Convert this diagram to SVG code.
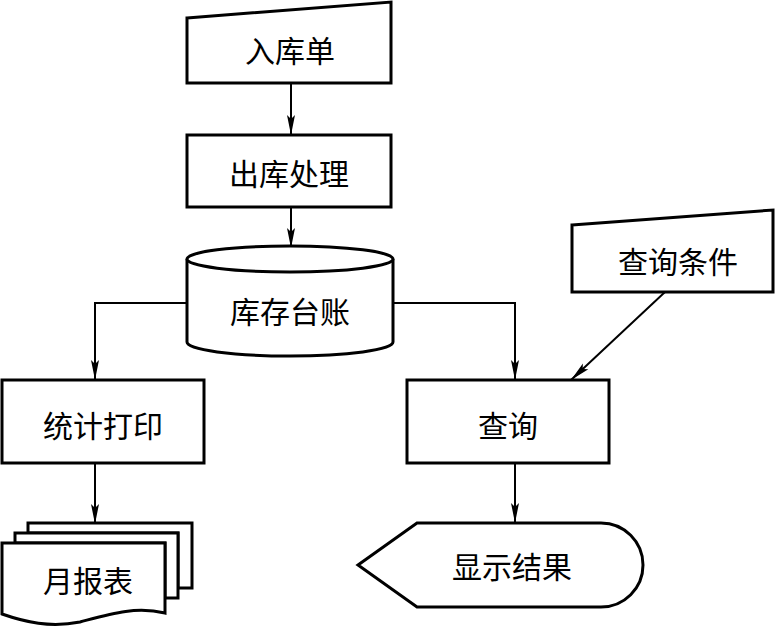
<svg xmlns="http://www.w3.org/2000/svg" width="776" height="627" viewBox="0 0 776 627">
<defs>
<style>
.s{fill:#fff;stroke:#000;stroke-width:3;stroke-linejoin:miter}
.c{fill:none;stroke:#000;stroke-width:2}
text{font-family:"Noto Sans CJK SC","Noto Sans CJK JP",sans-serif;font-size:30px;fill:#000;text-anchor:middle;dominant-baseline:central}
</style>
<marker id="a" viewBox="0 0 20 10" refX="20" refY="5" markerWidth="20" markerHeight="10" markerUnits="userSpaceOnUse" orient="auto">
<path d="M0,1 L20,5 L0,9 L4,5 Z" fill="#000"/>
</marker>
</defs>
<g id="connectors">
<line class="c" x1="291" y1="83" x2="291" y2="135" marker-end="url(#a)"/>
<line class="c" x1="291" y1="207" x2="291" y2="248" marker-end="url(#a)"/>
<polyline class="c" points="187,303 95,303 95,380" marker-end="url(#a)"/>
<polyline class="c" points="393,303 515,303 515,380" marker-end="url(#a)"/>
<line class="c" x1="665" y1="292" x2="571" y2="380" marker-end="url(#a)"/>
<line class="c" x1="95" y1="463" x2="95" y2="524" marker-end="url(#a)"/>
<line class="c" x1="515" y1="463" x2="515" y2="523" marker-end="url(#a)"/>
</g>
<g id="n-rukudan">
<path class="s" d="M187,18 L391,2 L391,83 L187,83 Z"/>
<text x="290" y="49">入库单</text>
</g>
<g id="n-chuku">
<rect class="s" x="187" y="135" width="204" height="72"/>
<text x="289" y="172">出库处理</text>
</g>
<g id="n-taizhang">
<path class="s" d="M187,259 L187,342 A103,14 0 0 0 393,342 L393,259"/>
<ellipse class="s" cx="290" cy="259" rx="103" ry="13"/>
<text x="290" y="310">库存台账</text>
</g>
<g id="n-tongji">
<rect class="s" x="2" y="380" width="202" height="83"/>
<text x="103" y="424">统计打印</text>
</g>
<g id="n-chaxun">
<rect class="s" x="407" y="380" width="202" height="83"/>
<text x="508" y="424">查询</text>
</g>
<g id="n-tiaojian">
<path class="s" d="M572,225 L773,210 L773,292 L572,292 Z"/>
<text x="678" y="260">查询条件</text>
</g>
<g id="n-yuebao">
<path class="s" d="M28,523 L192,523 L192,588 L178,588 L178,533 L28,533 Z"/>
<path class="s" d="M15,533 L178,533 L178,598 L165,598 L165,543 L15,543 Z"/>
<path class="s" d="M2,543 L165,543 L165,613 C135,606 110,614 80,622 C50,628 25,622 2,614 Z"/>
<text x="88" y="579">月报表</text>
</g>
<g id="n-xianshi">
<path class="s" d="M358,565 L417,523 L601,523 A42,42 0 0 1 601,607 L417,607 Z"/>
<text x="512" y="565">显示结果</text>
</g>
</svg>
